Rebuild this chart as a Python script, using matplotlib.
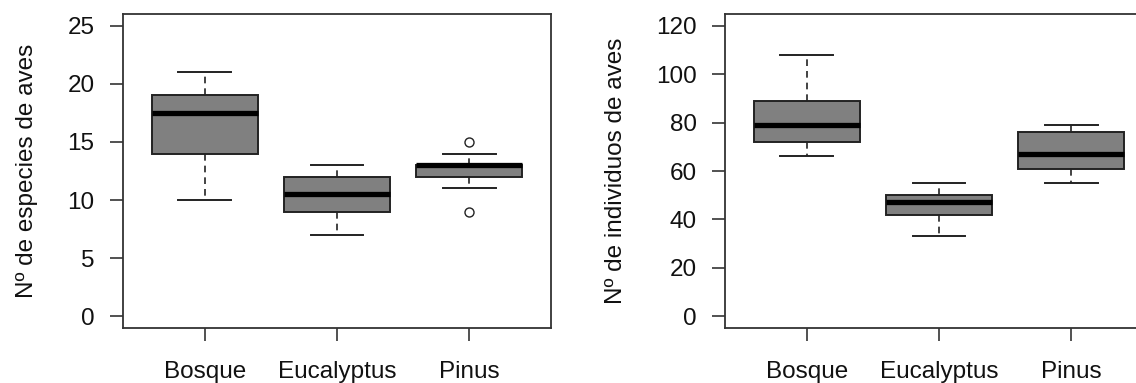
import matplotlib
matplotlib.use("Agg")
import matplotlib.pyplot as plt

plt.rcParams['font.family'] = ['Liberation Sans', 'DejaVu Sans']

categories = ["Bosque", "Eucalyptus", "Pinus"]

# species richness: (whislo, q1, med, q3, whishi, outliers)
especies_whislo = [10, 7, 11]
especies_q1 = [14, 9, 12]
especies_med = [17.5, 10.5, 13]
especies_q3 = [19, 12, 13]
especies_whishi = [21, 13, 14]
especies_fliers = [[], [], [15, 9]]

individuos_whislo = [66, 33, 55]
individuos_q1 = [72, 42, 61]
individuos_med = [79, 47, 67]
individuos_q3 = [89, 50, 76]
individuos_whishi = [108, 55, 79]
individuos_fliers = [[], [], []]

esp_ticks = [0, 5, 10, 15, 20, 25]
ind_ticks = [0, 20, 40, 60, 80, 100, 120]

W, H = 1136, 383
fig = plt.figure(figsize=(W / 100, H / 100), dpi=100)

def stats(lo, q1, med, q3, hi, fl):
    return [dict(whislo=a, q1=b, med=c, q3=d, whishi=e, fliers=f, label=n)
            for a, b, c, d, e, f, n in zip(lo, q1, med, q3, hi, fl, categories)]

def panel(left_px, st, yticks, ylabel):
    ax = fig.add_axes([left_px / W, (H - 328) / H, 428 / W, (328 - 14) / H])
    edge = '#222222'
    ax.bxp(st, positions=[1, 2, 3], widths=0.8, patch_artist=True,
           boxprops=dict(facecolor='#808080', edgecolor=edge, linewidth=1.4),
           medianprops=dict(color='black', linewidth=3.8, solid_capstyle='butt'),
           whiskerprops=dict(color=edge, linewidth=1.2, linestyle=(0, (4, 3))),
           capprops=dict(color=edge, linewidth=1.4),
           capwidths=0.4,
           flierprops=dict(marker='o', markerfacecolor='white', markeredgecolor=edge,
                           markersize=6.5, markeredgewidth=1.0, linestyle='none'))
    lo, hi = yticks[0], yticks[-1]
    r = hi - lo
    ax.set_ylim(lo - 0.04 * r, hi + 0.04 * r)
    ax.set_xlim(0.38, 3.62)
    ax.set_yticks(yticks)
    ax.set_yticklabels([str(t) for t in yticks])
    ax.set_xticks([1, 2, 3])
    ax.set_xticklabels(categories)
    ax.tick_params(axis='both', length=9.5, width=1.2, color='#333333', labelsize=17.5,
                   labelcolor='#111111')
    ax.tick_params(axis='y', pad=11)
    ax.tick_params(axis='x', pad=14)
    for s in ax.spines.values():
        s.set_linewidth(1.3)
        s.set_color('#333333')
    ax.set_ylabel(ylabel, fontsize=17.5, color='#111111', labelpad=21)
    return ax

ax1 = panel(123, stats(especies_whislo, especies_q1, especies_med, especies_q3,
                       especies_whishi, especies_fliers), esp_ticks,
            "Nº de especies de aves")
ax2 = panel(725, stats(individuos_whislo, individuos_q1, individuos_med, individuos_q3,
                       individuos_whishi, individuos_fliers), ind_ticks,
            "Nº de individuos de aves")

fig.savefig("out.png", dpi=100)
